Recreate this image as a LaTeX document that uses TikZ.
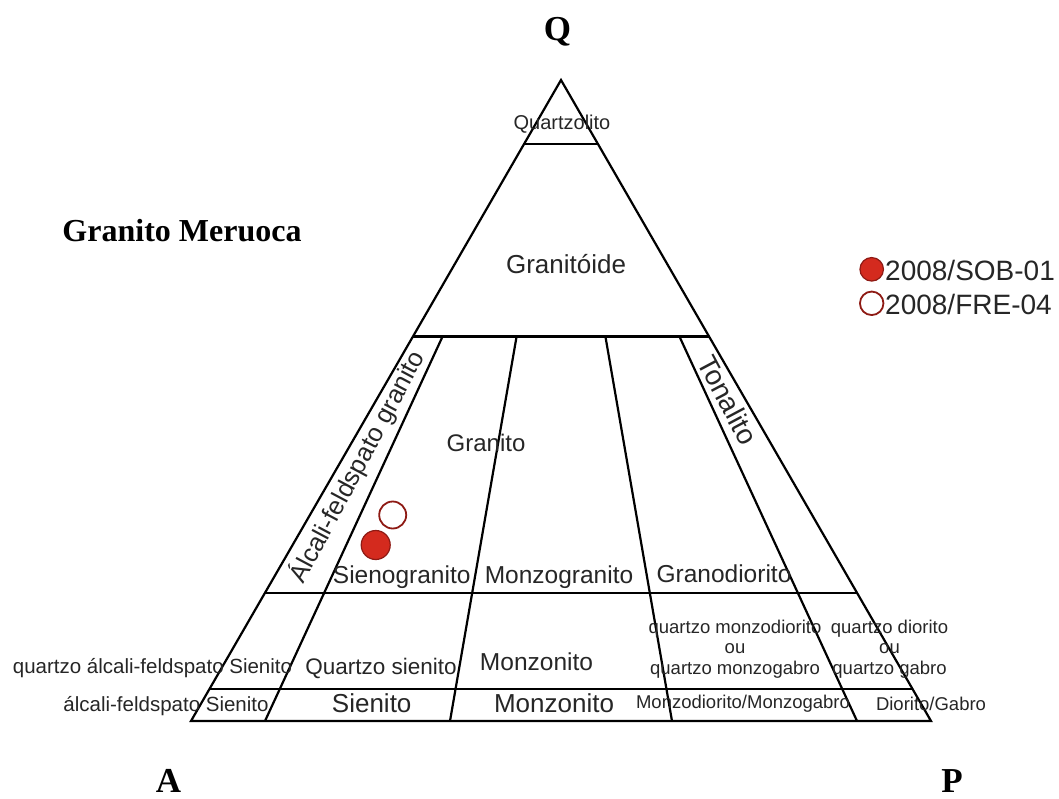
\documentclass[tikz,border=0pt]{standalone}
\usepackage{fontspec}
\setmainfont{Liberation Serif}
\setsansfont{Liberation Sans}
\usepackage{xcolor}
\usepackage{tikz}
\usetikzlibrary{calc}

\definecolor{ptfill}{HTML}{D42A1E}
\definecolor{ptedge}{HTML}{8E1A14}

\tikzset{
	fsize/.style={font=\sffamily\fontsize{#1}{#1}\selectfont},
	rock/.style={text=black!85, inner sep=0pt},
	corner/.style={font=\bfseries\fontsize{35}{35}\selectfont, inner sep=0pt},
	field/.style={line width=2.2pt},
	sob/.style={circle, fill=ptfill, draw=ptedge, line width=1.2pt, inner sep=0pt},
	fre/.style={circle, fill=white, draw=ptedge, line width=1.8pt, inner sep=0pt},
}

\begin{document}
\begin{tikzpicture}[x=1pt, y=-1pt]
			
			\useasboundingbox (0,0) rectangle (1059,798);
			
			% ----- Corners -----
			\coordinate (A) at (191,721);
			\coordinate (P) at (931,721);
			\coordinate (Q) at (561,80);
			
			% P/(A+P) points on the base
			\coordinate (b10) at ($(A)!0.10!(P)$);
			\coordinate (b35) at ($(A)!0.35!(P)$);
			\coordinate (b65) at ($(A)!0.65!(P)$);
			\coordinate (b90) at ($(A)!0.90!(P)$);
			
			% ----- Fields -----
			\draw[field, line join=miter] (A) -- (P) -- (Q) -- cycle;
			\foreach \q in {0.05,0.2,0.6,0.9}
			\draw[field] ($(A)!\q!(Q)$) -- ($(P)!\q!(Q)$);
			\foreach \b in {b10,b35,b65,b90}
			\draw[field] (\b) -- ($(\b)!0.6!(Q)$);
			
			% ----- Corner labels -----
			\node[corner] (lq) at (557.5,32) {Q};
			\node[corner] (la) at (168.5,781) {A};
			\node[corner] (lp) at (952,781) {P};
			\node[font=\bfseries\fontsize{32}{32}\selectfont, inner sep=0pt] (title) at (182,231) {Granito Meruoca};
			
			% ----- Upper fields -----
			\node[rock, fsize=20] (qzl) at (562,124) {Quartzolito};
			\node[rock, fsize=26] (gtd) at (566,264) {Granitóide};
			\node[rock, fsize=25.5, rotate=62] (afg) at (357,467) {Álcali-feldspato granito};
			\node[rock, fsize=28, rotate=-62] (ton) at (728,400) {Tonalito};
			\node[rock, fsize=24] (gra) at (486,443) {Granito};
			\node[rock, fsize=24.5] (sgr) at (401.7,577) {Sienogranito};
			\node[rock, fsize=24.5] (mgr) at (559,577) {Monzogranito};
			\node[rock, fsize=24.5] (gdr) at (724,574) {Granodiorito};
			
			% ----- Q 5-20 -----
			\node[rock, fsize=20.5] (qafs) at (152.5,668) {quartzo álcali-feldspato Sienito};
			\node[rock, fsize=22.5] (qsi) at (381,668) {Quartzo sienito};
			\node[rock, fsize=24.5] (qmz) at (536.5,662) {Monzonito};
			\node[rock, align=center, font=\sffamily\fontsize{18.5}{20.5}\selectfont] (qmzd) at (735,649) {quartzo monzodiorito\\ou\\quartzo monzogabro};
			\node[rock, align=center, font=\sffamily\fontsize{18.5}{20.5}\selectfont] (qdi) at (889.5,649) {quartzo diorito\\ou\\quartzo gabro};
			
			% ----- Q 0-5 -----
			\node[rock, fsize=20.5] (afs) at (166,706.5) {álcali-feldspato Sienito};
			\node[rock, fsize=26] (sie) at (371.7,703.5) {Sienito};
			\node[rock, fsize=26] (mzn) at (554,703.5) {Monzonito};
			\node[rock, fsize=18.5] (mzd) at (743,704) {Monzodiorito/Monzogabro};
			\node[rock, fsize=18.5] (dio) at (931,704) {Diorito/Gabro};
			
			% ----- Samples -----
			\node[sob, minimum size=29pt] (s1) at (375.7,545) {};
			\node[fre, minimum size=27pt] (s2) at (392.7,515) {};
			
			% ----- Legend -----
			\node[sob, minimum size=23.5pt] (k1) at (871.7,269.3) {};
			\node[fre, minimum size=23.5pt] (k2) at (871.7,303.3) {};
			\node[rock, fsize=28, anchor=west] (t1) at (885,270) {2008/SOB-01};
			\node[rock, fsize=28, anchor=west] (t2) at (885,304) {2008/FRE-04};
			
		\end{tikzpicture}
\end{document}
